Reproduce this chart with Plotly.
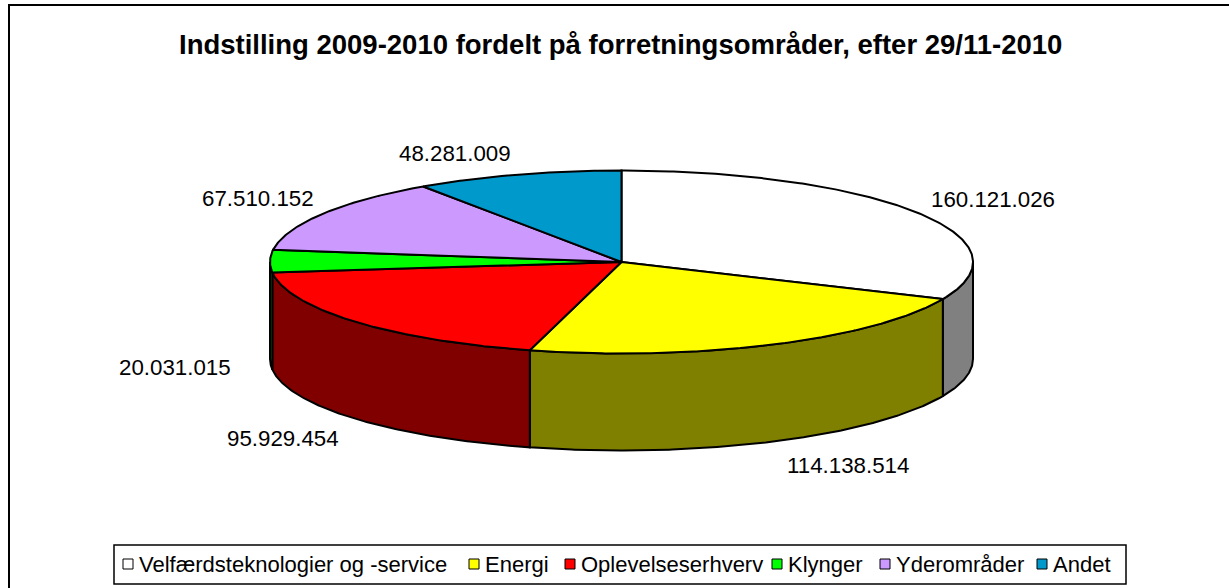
import numpy as np
import plotly.graph_objects as go

# ---- data ----
categories = ["Velfærdsteknologier og -service", "Energi", "Oplevelseserhverv",
              "Klynger", "Yderområder", "Andet"]
values = [160121026, 114138514, 95929454, 20031015, 67510152, 48281009]

# ---- styles / layout ----
top_colors = ["#FFFFFF", "#FFFF00", "#FF0000", "#00FF00", "#CC99FF", "#0099CC"]
side_colors = ["#808080", "#808000", "#800000", "#008000", "#664C80", "#004C66"]
label_pos = [(993, 199), (848, 465), (283, 438), (175, 367), (258, 198), (455, 153)]
legend_sq_x = [123, 469, 565, 772, 880, 1037]

W, H = 1229, 588
CX, CY, RX, RY, DEPTH = 621.5, 262.0, 351.5, 91.5, 97.0
FONT = "Arial, Liberation Sans, sans-serif"


def fmt(v):
    return f"{v:,}".replace(",", ".")


def arc(a1, a2, dy=0.0):
    t = np.radians(np.linspace(a1, a2, max(2, int(abs(a2 - a1) * 2) + 2)))
    return CX + RX * np.sin(t), CY - RY * np.cos(t) + dy


total = float(sum(values))
angles = np.concatenate([[0.0], np.cumsum(values) / total * 360.0])

fig = go.Figure()

# side walls (front half only: 90..270 deg clockwise from top)
for i in range(len(values)):
    a1, a2 = angles[i], angles[i + 1]
    s1, s2 = max(a1, 90.0), min(a2, 270.0)
    if s1 < s2:
        xt, yt = arc(s1, s2)
        xb, yb = arc(s2, s1, DEPTH)
        xs = np.concatenate([xt, xb, xt[:1]])
        ys = np.concatenate([yt, yb, yt[:1]])
        fig.add_trace(go.Scatter(x=xs, y=ys, mode="lines", fill="toself",
                                 fillcolor=side_colors[i],
                                 line=dict(color="black", width=2),
                                 hoverinfo="skip", showlegend=False))

# top faces
for i in range(len(values)):
    a1, a2 = angles[i], angles[i + 1]
    xa, ya = arc(a1, a2)
    xs = np.concatenate([[CX], xa, [CX]])
    ys = np.concatenate([[CY], ya, [CY]])
    fig.add_trace(go.Scatter(x=xs, y=ys, mode="lines", fill="toself",
                             fillcolor=top_colors[i],
                             line=dict(color="black", width=2),
                             hoverinfo="skip", showlegend=False))

annotations = []
# data labels
for i, v in enumerate(values):
    lx, ly = label_pos[i]
    annotations.append(dict(x=lx, y=ly, xref="x", yref="y", text=fmt(v),
                            showarrow=False, xanchor="center", yanchor="middle",
                            font=dict(family=FONT, size=22.3, color="black")))

# title
annotations.append(dict(x=620, y=44, xref="x", yref="y",
                        text="<b>Indstilling 2009-2010 fordelt på forretningsområder, efter 29/11-2010</b>",
                        showarrow=False, xanchor="center", yanchor="middle",
                        font=dict(family=FONT, size=27.5, color="black")))

shapes = [
    # outer chart border
    dict(type="rect", xref="x", yref="y", x0=9, y0=5, x1=W + 20, y1=H + 20,
         line=dict(color="black", width=2), fillcolor="rgba(0,0,0,0)", layer="below"),
    # legend box
    dict(type="rect", xref="x", yref="y", x0=114, y0=545, x1=1126, y1=584,
         line=dict(color="black", width=1.5), fillcolor="white", layer="below"),
]

# legend entries
for i, name in enumerate(categories):
    x0 = legend_sq_x[i]
    shapes.append(dict(type="rect", xref="x", yref="y", x0=x0, y0=559, x1=x0 + 10, y1=569,
                       line=dict(color="black", width=1), fillcolor=top_colors[i]))
    annotations.append(dict(x=x0 + 14, y=564, xref="x", yref="y", text=name,
                            showarrow=False, xanchor="left", yanchor="middle",
                            font=dict(family=FONT, size=22, color="black")))

fig.update_layout(
    width=W, height=H,
    margin=dict(l=0, r=0, t=0, b=0),
    paper_bgcolor="white", plot_bgcolor="white",
    xaxis=dict(range=[0, W], visible=False, fixedrange=True),
    yaxis=dict(range=[H, 0], visible=False, fixedrange=True),
    annotations=annotations, shapes=shapes,
    showlegend=False,
)

fig.write_html("out.html", config={"displayModeBar": False},
               post_script="document.body.style.margin='0';document.body.style.overflow='hidden';")
